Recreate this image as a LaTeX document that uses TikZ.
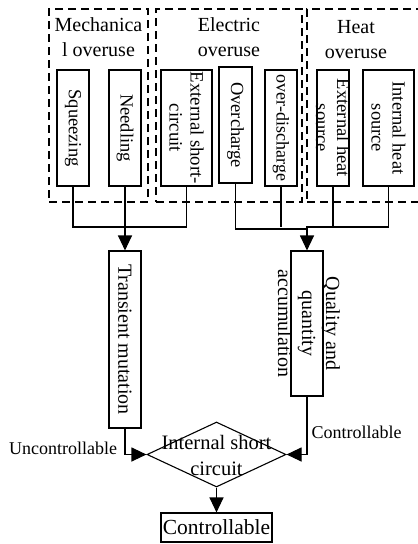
\documentclass[tikz,border=0pt]{standalone}
\usepackage{fontspec}
\setmainfont{Liberation Serif}
\usetikzlibrary{arrows.meta,shapes.geometric}
\tikzset{
  grp/.style={draw, line width=1.2pt, dash pattern=on 8pt off 5pt, inner sep=0pt},
  bx/.style={draw, line width=1.1pt, inner sep=0pt, minimum width=32pt, minimum height=116pt},
  vt/.style={rotate=-90, align=center, inner sep=0pt, font=\fontsize{18.5}{21}\selectfont},
  ttl/.style={align=center, inner sep=0pt, font=\fontsize{20}{25}\selectfont},
  lab/.style={inner sep=0pt, font=\fontsize{18}{21}\selectfont},
  ln/.style={line width=1.1pt},
  arr/.style={line width=1.1pt, -{Triangle[width=14pt,length=15pt]}},
}
\begin{document}
\begin{tikzpicture}[x=1pt,y=-1pt]
\useasboundingbox (0,0) rectangle (418,544);
% groups
\node[grp, minimum width=99pt, minimum height=193pt] (gm) at (98.5,105.5) {};
\node[grp, minimum width=146pt, minimum height=193pt] (ge) at (229,105.5) {};
\node[grp, minimum width=118pt, minimum height=193pt] (gh) at (366,105.5) {};
\node[ttl] (gmt) at (98.5,37.5) {Mechanica\\l overuse};
\node[ttl] (get) at (229,37.5) {Electric\\overuse};
\node[ttl] (ght) at (356,40) {Heat\\overuse};
% cause boxes
\node[bx] (sq) at (73,128) {};
\node[vt] (sqt) at (sq) {Squeezing};
\node[bx] (nd) at (125,128) {};
\node[vt] (ndt) at (nd) {Needling};
\node[bx, minimum width=51pt] (ext) at (186.5,128) {};
\node[vt, font=\fontsize{18.8}{21}\selectfont] (extt) at (ext) {External short-\\circuit};
\node[bx, minimum width=33pt] (oc) at (235.5,125) {};
\node[vt] (oct) at (oc) {Overcharge};
\node[bx] (od) at (281,128) {};
\node[vt, font=\fontsize{18}{21}\selectfont] (odt) at (od) {over-discharge};
\node[bx] (eh) at (333,128) {};
\node[vt] (eht) at (eh) {External heat\\source};
\node[bx, minimum width=51pt] (ih) at (388.5,128) {};
\node[vt] (iht) at (ih) {Internal heat\\source};
% middle boxes
\node[bx, minimum height=177pt] (tm) at (125,339.5) {};
\node[vt, font=\fontsize{20}{21}\selectfont] (tmt) at (tm) {Transient mutation};
\node[bx, minimum height=145pt] (qa) at (307,323.5) {};
\node[vt, font=\fontsize{20}{24}\selectfont] (qat) at (309,323.5) {Quality and\\quantity\\accumulation};
% diamond and result
\node[draw, diamond, line width=1.1pt, inner sep=0pt, minimum width=139pt, minimum height=65pt] (dia) at (216.5,454.5) {};
\node[align=center, inner sep=0pt, font=\fontsize{20.5}{26}\selectfont] (diat) at (216.5,455) {Internal short\\circuit};
\node[draw, line width=1.1pt, inner sep=0pt, minimum width=111pt, minimum height=29pt, font=\fontsize{21.5}{24}\selectfont] (ctrl) at (216.5,527.5) {Controllable};
\node[lab] (unc) at (63,448) {Uncontrollable};
\node[lab] (con) at (356.5,432) {Controllable};
% connectors
\coordinate (jl) at (125,227);
\coordinate (jr) at (307,229);
\coordinate (jr2) at (307,227);
\draw[ln] (sq.south) |- (jl);
\draw[ln] (ext.south) |- (jl);
\draw[arr] (nd.south) -- (tm.north);
\draw[ln] (oc.south) |- (jr);
\draw[ln] (ih.south) |- (jr2) -- (jr);
\draw[ln] (od.south) -- (od.south |- jr2);
\draw[ln] (eh.south) -- (eh.south |- jr2);
\draw[arr] (jr) -- (qa.north);
\draw[arr] (tm.south) |- (dia.west);
\draw[arr] (qa.south) |- (dia.east);
\draw[arr] (dia.south) -- (ctrl.north);
\end{tikzpicture}
\end{document}
